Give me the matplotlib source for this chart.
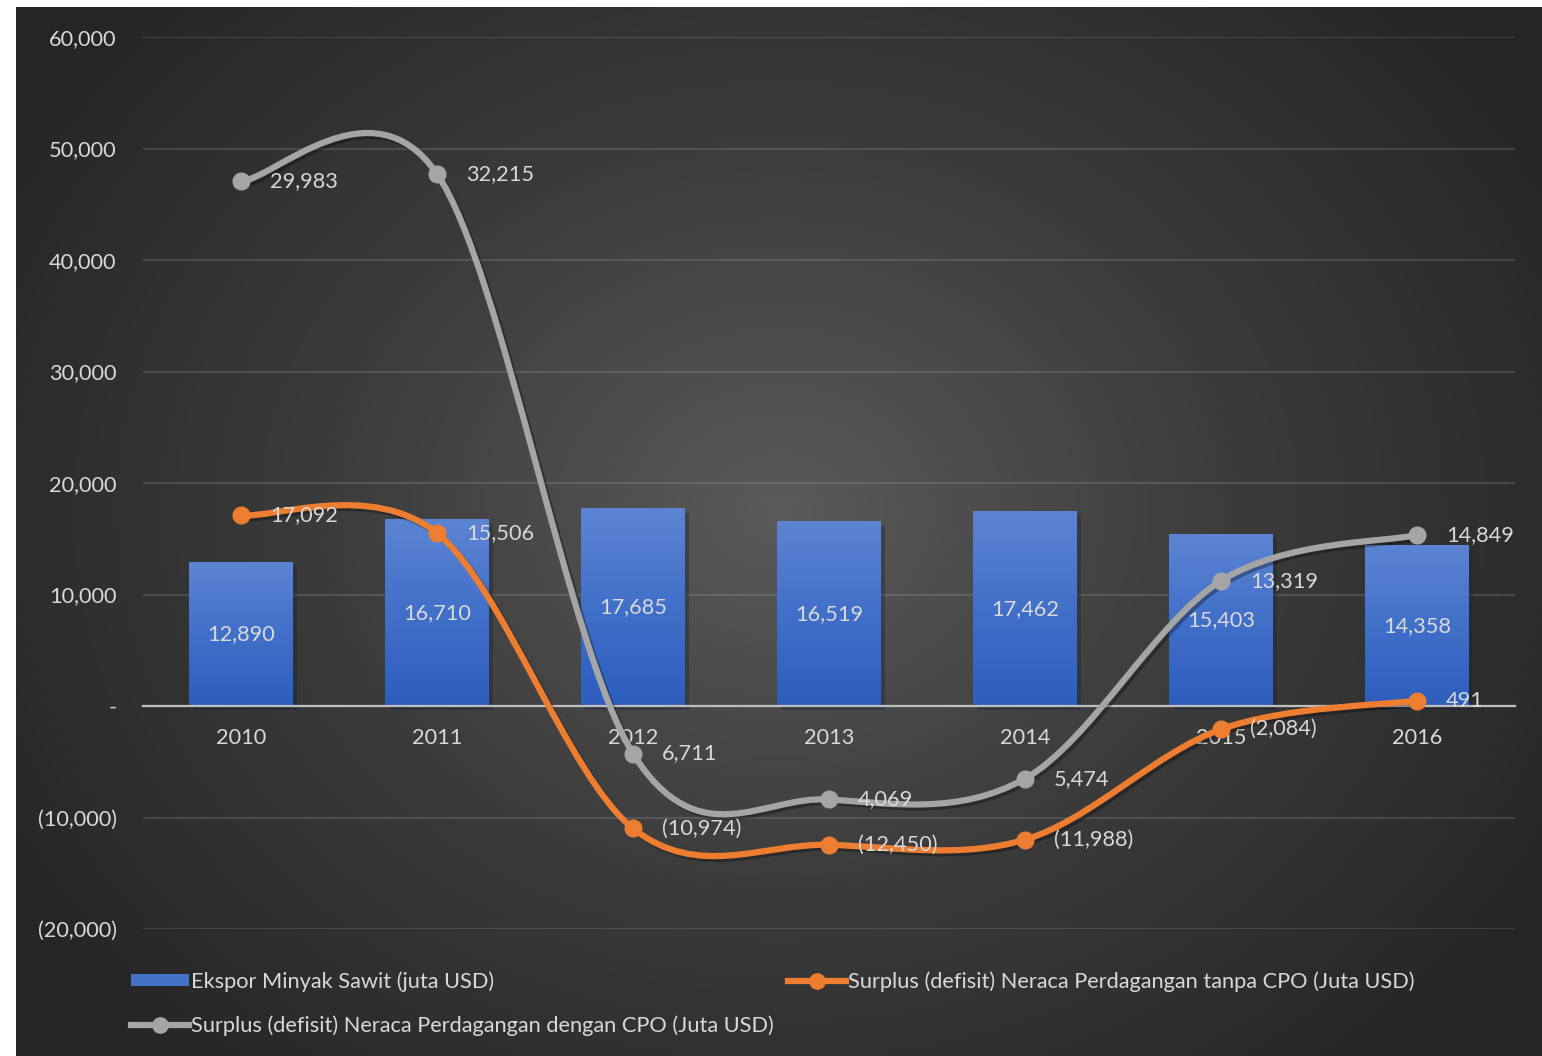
import numpy as np
import matplotlib
matplotlib.use('Agg')
import matplotlib.pyplot as plt
import matplotlib.patheffects as pe
from matplotlib.path import Path
from matplotlib.patches import PathPatch, Patch
from matplotlib.lines import Line2D
from matplotlib.colors import LinearSegmentedColormap

plt.rcParams['font.family'] = ['Lato', 'DejaVu Sans']

# data (juta USD)
years = ['2010', '2011', '2012', '2013', '2014', '2015', '2016']
ekspor = [12890, 16710, 17685, 16519, 17462, 15403, 14358]
tanpa_cpo = [17092, 15506, -10974, -12450, -11988, -2084, 491]
dengan_cpo = [29983, 32215, 6711, 4069, 5474, 13319, 14849]

label_ekspor = 'Ekspor Minyak Sawit (juta USD)'
label_tanpa = 'Surplus (defisit) Neraca Perdagangan tanpa CPO (Juta USD)'
label_dengan = 'Surplus (defisit) Neraca Perdagangan dengan CPO (Juta USD)'

TEXT = '#d9d9d9'
BLUE = '#4472c4'
ORANGE = '#ed7d31'
GRAY = '#a5a5a5'
FS = 15.7


def fmt(v):
    if v == 0:
        return '-'
    if v < 0:
        return f'({-v:,.0f})'
    return f'{v:,.0f}'


def smooth_path(xs, ys):
    # excel style smoothing: cubic bezier, control points at 1/6 of neighbour span
    pts = np.column_stack([xs, ys]).astype(float)
    n = len(pts)
    verts = [pts[0]]
    codes = [Path.MOVETO]
    for i in range(n - 1):
        p0 = pts[max(i - 1, 0)]
        p1 = pts[i]
        p2 = pts[i + 1]
        p3 = pts[min(i + 2, n - 1)]
        verts += [p1 + (p2 - p0) / 6, p2 - (p3 - p1) / 6, p2]
        codes += [Path.CURVE4] * 3
    return Path(verts, codes)


fig = plt.figure(figsize=(15.42, 10.56), dpi=100)
fig.patch.set_facecolor('white')

# radial gradient background of the chart area
bg = fig.add_axes([16 / 1542, 0, 1 - 16 / 1542, 1 - 7 / 1056], zorder=-10)
h, w = 525, 763
yy, xx = np.mgrid[0:h, 0:w]
d = np.sqrt(((xx - w * 0.5) / (w * 0.6)) ** 2 + ((yy - h * 0.48) / (h * 0.72)) ** 2)
bg_cmap = LinearSegmentedColormap.from_list('bg', ['#5a5a5a', '#3b3b3b', '#252525'])
bg.imshow(np.clip(d, 0, 1), cmap=bg_cmap, vmin=0, vmax=1, aspect='auto',
          extent=[0, 1, 0, 1], interpolation='bilinear')
bg.axis('off')

ax = fig.add_axes([143 / 1542, 1 - 929 / 1056, (1515 - 143) / 1542, (929 - 37) / 1056])
ax.set_facecolor('none')
x = np.arange(len(years))

# bars with vertical gradient
bar_cmap = LinearSegmentedColormap.from_list('bar', ['#2d5ebd', '#4170c9', '#5c84d3'])
bars = ax.bar(x, ekspor, width=0.53, color=BLUE, zorder=2,
              path_effects=[pe.SimplePatchShadow(offset=(3, -3), alpha=0.35), pe.Normal()])
grad = np.linspace(0, 1, 256).reshape(-1, 1)
for b in bars:
    ax.imshow(grad, cmap=bar_cmap, origin='lower', aspect='auto', zorder=2.1,
              extent=[b.get_x(), b.get_x() + b.get_width(), 0, b.get_height()])
for xi, v in zip(x, ekspor):
    ax.text(xi, v / 2, fmt(v), ha='center', va='center', color=TEXT, fontsize=FS, zorder=6)

# stacked lines (second series sits on top of the first)
stacked = np.array(tanpa_cpo) + np.array(dengan_cpo)
shadow = [pe.SimpleLineShadow(offset=(2, -2), alpha=0.3), pe.Normal()]
for vals, col, z in [(tanpa_cpo, ORANGE, 3), (stacked, GRAY, 4)]:
    ax.add_patch(PathPatch(smooth_path(x, vals), fill=False, edgecolor=col, lw=4.5,
                           capstyle='round', zorder=z, path_effects=shadow))
    ax.plot(x, vals, 'o', color=col, ms=12, zorder=z + 0.5)

for xi, yv, v in zip(x, tanpa_cpo, tanpa_cpo):
    ax.annotate(fmt(v), (xi, yv), xytext=(21, 0), textcoords='offset points',
                ha='left', va='center', color=TEXT, fontsize=FS, zorder=7)
for xi, yv, v in zip(x, stacked, dengan_cpo):
    ax.annotate(fmt(v), (xi, yv), xytext=(21, 0), textcoords='offset points',
                ha='left', va='center', color=TEXT, fontsize=FS, zorder=7)

# axes
ax.set_xlim(-0.5, 6.5)
ax.set_ylim(-20000, 60000)
yt = list(range(-20000, 60001, 10000))
ax.set_yticks(yt)
ax.set_yticklabels([fmt(v) for v in yt])
ax.set_xticks(x)
ax.set_xticklabels(years)
ax.tick_params(axis='y', length=0, pad=19, labelsize=FS, labelcolor=TEXT)
ax.tick_params(axis='x', length=0, pad=15.5, labelsize=FS, labelcolor=TEXT)
for s in ['top', 'right', 'left']:
    ax.spines[s].set_visible(False)
ax.spines['bottom'].set_position(('data', 0))
ax.spines['bottom'].set_color('#bfbfbf')
ax.spines['bottom'].set_linewidth(1.6)
ax.spines['bottom'].set_zorder(2.5)
ax.set_axisbelow(True)
ax.yaxis.grid(True, color='white', alpha=0.12, lw=1.6)

# legend
handles = [Patch(facecolor=BLUE),
           Line2D([], [], color=GRAY, lw=4.5, marker='o', ms=11),
           Line2D([], [], color=ORANGE, lw=4.5, marker='o', ms=11)]
fig.legend(handles, [label_ekspor, label_dengan, label_tanpa], ncol=2,
           loc='upper left', bbox_to_anchor=(131 / 1542, 1 - 971 / 1056),
           frameon=False, fontsize=FS, labelcolor=TEXT, handlelength=2.65,
           handleheight=0.45, handletextpad=0.1, columnspacing=0.65,
           borderpad=0, borderaxespad=0, labelspacing=1.1)

fig.savefig('out.png', dpi=100)
